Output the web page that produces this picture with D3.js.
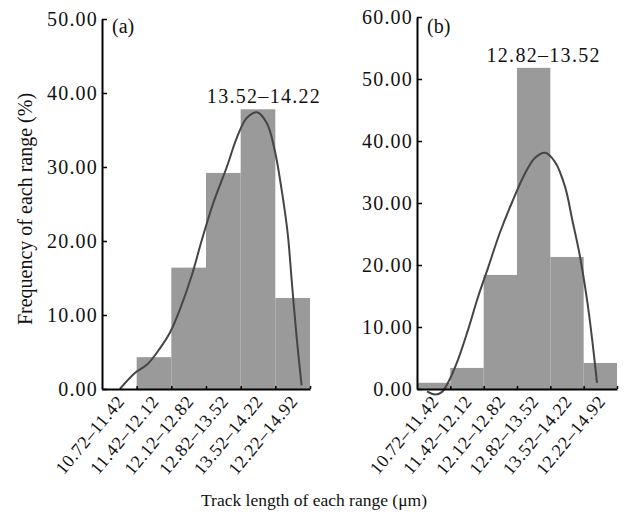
<!DOCTYPE html>
<html>
<head>
<meta charset="utf-8">
<script src="https://cdn.jsdelivr.net/npm/d3@7"></script>
<style>
  html, body { margin: 0; padding: 0; background: #fff; }
  svg text { font-family: "Liberation Serif", "Times New Roman", serif; fill: #111; }
</style>
</head>
<body>
<svg id="chart" width="626" height="515"></svg>
<script>
// ---- data ----
const categories = ["10.72–11.42", "11.42–12.12", "12.12–12.82", "12.82–13.52", "13.52–14.22", "12.22–14.92"];
const binEdges = [10.72, 11.42, 12.12, 12.82, 13.52, 14.22, 14.92];
const freqA = [0, 4.3, 16.4, 29.2, 37.8, 12.3];
const freqB = [1.0, 3.4, 18.4, 51.8, 21.3, 4.2];
const yTicksA = [0, 10, 20, 30, 40, 50];
const yTicksB = [0, 10, 20, 30, 40, 50, 60];
const curveA = [[11.08,0],[11.39,2.2],[11.63,3.3],[11.89,5.5],[12.09,7.6],[12.29,10.7],[12.54,15.5],[12.73,20.0],[12.96,25.0],[13.24,30.0],[13.44,33.9],[13.64,36.6],[13.85,37.4],[14.05,35.9],[14.21,32.2],[14.35,26.8],[14.47,21.0],[14.55,14.7],[14.65,7.0],[14.75,0.5]];
const curveB = [[10.93,-0.4],[11.10,-0.9],[11.24,-0.5],[11.37,1.0],[11.58,4.7],[11.79,9.5],[12.00,14.8],[12.21,19.5],[12.46,25.2],[12.72,30.2],[12.99,34.8],[13.20,37.3],[13.41,38.1],[13.62,36.6],[13.83,32.6],[13.98,27.3],[14.14,21.5],[14.29,14.4],[14.40,7.9],[14.50,1.0]];
const panelTags = ["(a)", "(b)"];
const peakLabels = ["13.52–14.22", "12.82–13.52"];
const peakIndex = [4, 3];
const yTitle = "Frequency of each range (%)";
const xTitle = "Track length of each range (μm)";

const svg = d3.select("#chart");

const panels = [
  { freq: freqA, curve: curveA, yMax: 50, ticks: yTicksA, x0: 102, x1: 310, yTop: 19, tag: panelTags[0], peak: peakLabels[0], pi: peakIndex[0], peakDx: 6 },
  { freq: freqB, curve: curveB, yMax: 60, ticks: yTicksB, x0: 417, x1: 617, yTop: 17, tag: panelTags[1], peak: peakLabels[1], pi: peakIndex[1], peakDx: 10 }
];
const yBase = 389;

panels.forEach(p => {
  const xb = d3.scaleBand().domain(categories).range([p.x0, p.x1]).paddingInner(0).paddingOuter(0);
  const xl = d3.scaleLinear().domain([binEdges[0], binEdges[binEdges.length - 1]]).range([p.x0, p.x1]);
  const y = d3.scaleLinear().domain([0, p.yMax]).range([yBase, p.yTop]);
  const g = svg.append("g");

  // bars
  g.selectAll("rect.bar").data(p.freq).join("rect")
    .attr("class", "bar")
    .attr("x", (d, i) => xb(categories[i]))
    .attr("width", xb.bandwidth())
    .attr("y", d => y(d))
    .attr("height", d => yBase - y(d))
    .attr("fill", "#9a9a9a");

  // fitted curve
  g.append("path")
    .datum(p.curve)
    .attr("fill", "none")
    .attr("stroke", "#454545")
    .attr("stroke-width", 2)
    .attr("d", d3.line().x(d => xl(d[0])).y(d => y(d[1])).curve(d3.curveCatmullRom.alpha(0.5)));

  // y axis
  const ya = g.append("g").attr("transform", `translate(${p.x0},0)`)
    .call(d3.axisLeft(y).tickValues(p.ticks).tickFormat(d3.format(".2f")).tickSize(-5).tickSizeOuter(0).tickPadding(4));
  ya.select(".domain").attr("stroke", "#000").attr("stroke-width", 2);
  ya.selectAll(".tick line").attr("stroke", "#000").attr("stroke-width", 1.5);
  ya.selectAll(".tick text").attr("font-size", 20).attr("letter-spacing", "1.2px")
    .attr("font-family", "Liberation Serif").attr("fill", "#111");

  // x axis
  const xa = g.append("g").attr("transform", `translate(0,${yBase})`)
    .call(d3.axisBottom(xl).tickValues(binEdges.slice(1)).tickFormat("").tickSize(-3).tickSizeOuter(0));
  xa.select(".domain").attr("stroke", "#000").attr("stroke-width", 2);
  xa.selectAll(".tick line").attr("stroke", "#000").attr("stroke-width", 1.5);

  // rotated category labels
  g.selectAll("text.cat").data(categories).join("text")
    .attr("class", "cat")
    .attr("text-anchor", "end")
    .attr("font-size", 18)
    .attr("letter-spacing", "0.6px")
    .attr("transform", d => `translate(${xb(d) + xb.bandwidth() / 2 + 6},${yBase + 13}) rotate(-50)`)
    .text(d => d);

  // panel tag
  g.append("text").attr("x", p.x0 + 10).attr("y", 33).attr("font-size", 20).text(p.tag);

  // peak label
  g.append("text")
    .attr("x", xb(categories[p.pi]) + xb.bandwidth() / 2 + p.peakDx)
    .attr("y", y(p.freq[p.pi]) - 6)
    .attr("text-anchor", "middle")
    .attr("font-size", 20)
    .attr("letter-spacing", "1.3px")
    .text(p.peak);
});

// axis titles
svg.append("text")
  .attr("transform", "translate(32,209) rotate(-90)")
  .attr("text-anchor", "middle")
  .attr("font-size", 20)
  .text(yTitle);

svg.append("text")
  .attr("x", 314).attr("y", 506)
  .attr("text-anchor", "middle")
  .attr("font-size", 17.5)
  .text(xTitle);
</script>
</body>
</html>
